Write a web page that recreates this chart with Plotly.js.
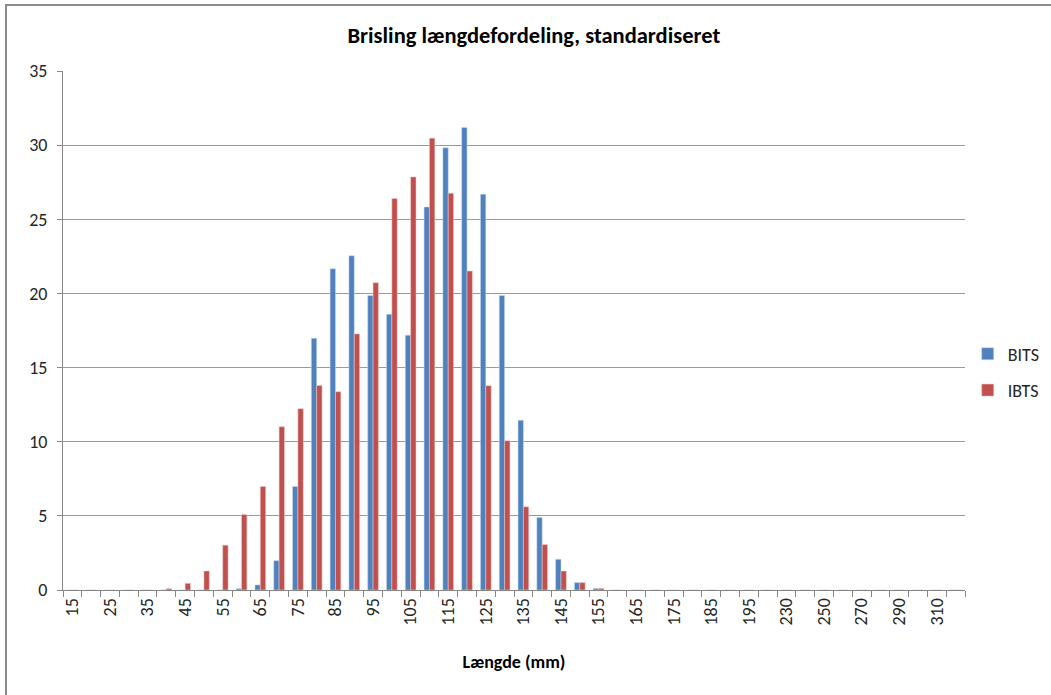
<!DOCTYPE html>
<html>
<head>
<meta charset="utf-8">
<script src="https://cdn.plot.ly/plotly-3.0.1.min.js"></script>
<style>
  html, body { margin: 0; padding: 0; background: #fff; }
  #wrap { position: relative; width: 1051px; height: 695px; overflow: hidden; }
  #chart { position: absolute; left: 0; top: 0; width: 1051px; height: 695px; }
  #frame { position: absolute; left: 5px; top: 4px; width: 1060px; height: 700px;
           border-left: 2px solid #8c8c8c; border-top: 2px solid #8c8c8c; pointer-events: none; }
</style>
</head>
<body>
<div id="wrap">
  <div id="chart"></div>
  <div id="frame"></div>
</div>
<script>
// Length classes (mm)
const categories = ["15","20","25","30","35","40","45","50","55","60","65","70","75","80","85","90","95",
  "100","105","110","115","120","125","130","135","140","145","150","155","160","165","170","175",
  "180","185","190","195","200","230","240","250","260","270","280","290","300","310","320"];

// Tick labels (every other class shown)
const tickLabels = ["15","","25","","35","","45","","55","","65","","75","","85","","95",
  "","105","","115","","125","","135","","145","","155","","165","","175",
  "","185","","195","","230","","250","","270","","290","","310",""];

// Standardised length distribution, %
const bits = [0,0,0,0,0,0,0,0,0,0.09,0.34,1.98,6.98,16.98,21.66,22.54,19.86,
  18.6,17.18,25.83,29.82,31.19,26.69,19.86,11.44,4.89,2.07,0.5,0.11,0,0,0,0,
  0,0,0,0,0,0,0,0,0,0,0,0,0,0,0];

const ibts = [0,0,0,0,0,0.09,0.45,1.28,3.02,5.09,6.98,11.01,12.23,13.79,13.37,17.27,20.72,
  26.4,27.86,30.47,26.76,21.51,13.78,10.07,5.61,3.06,1.28,0.5,0.11,0,0,0,0,
  0,0,0,0,0,0,0,0,0,0,0,0,0,0,0];

const FONT = "Carlito, 'Liberation Sans Narrow', 'DejaVu Sans Condensed', 'Open Sans', sans-serif";

const traces = [
  { type: "bar", name: "BITS", x: categories, y: bits, legendgroup: "a",
    marker: { color: "#4F81BD", line: { color: "rgba(200,215,240,0.9)", width: 0.6 } } },
  { type: "bar", name: "IBTS", x: categories, y: ibts, legendgroup: "b",
    marker: { color: "#C0504D", line: { color: "rgba(240,200,200,0.9)", width: 0.6 } } }
];

const layout = {
  width: 1051, height: 695,
  margin: { l: 63, r: 86, t: 71, b: 105, autoexpand: false },
  paper_bgcolor: "#ffffff", plot_bgcolor: "#ffffff",
  font: { family: FONT, color: "#262626", size: 18 },
  barmode: "group", bargap: 0.43, bargroupgap: 0,
  title: { text: "<b>Brisling længdefordeling, standardiseret</b>",
           font: { family: FONT, size: 22.5, color: "#000" },
           xref: "paper", x: 0.522, xanchor: "center", yref: "container", y: 0.95, yanchor: "middle" },
  xaxis: {
    type: "category", categoryorder: "array", categoryarray: categories,
    tickmode: "array", tickvals: categories, ticktext: tickLabels,
    tickson: "boundaries", ticks: "outside", ticklen: 6, tickcolor: "#868686", tickwidth: 1,
    tickangle: -90, tickfont: { family: FONT, size: 18, color: "#262626" },
    showline: true, linecolor: "#868686", linewidth: 1, showgrid: false, zeroline: false,
    range: [-0.5, 47.5], automargin: false,
    title: { text: "<b>Længde (mm)</b>", font: { family: FONT, size: 18, color: "#000" }, standoff: 30 }
  },
  yaxis: {
    range: [0, 35], dtick: 5, tick0: 0, automargin: false,
    ticks: "outside", ticklen: 5, tickcolor: "#868686",
    showline: true, linecolor: "#868686", linewidth: 1,
    showgrid: true, gridcolor: "#9a9a9a", gridwidth: 1, zeroline: false,
    tickfont: { family: FONT, size: 18, color: "#262626" }, ticklabelstandoff: 6
  },
  showlegend: true,
  legend: { x: 1.003, xanchor: "left", y: 0.42, yanchor: "middle",
            font: { family: FONT, size: 18, color: "#262626" },
            tracegroupgap: 10, itemwidth: 30, bgcolor: "rgba(0,0,0,0)" }
};

Plotly.newPlot("chart", traces, layout, { displayModeBar: false, staticPlot: true });
</script>
</body>
</html>
